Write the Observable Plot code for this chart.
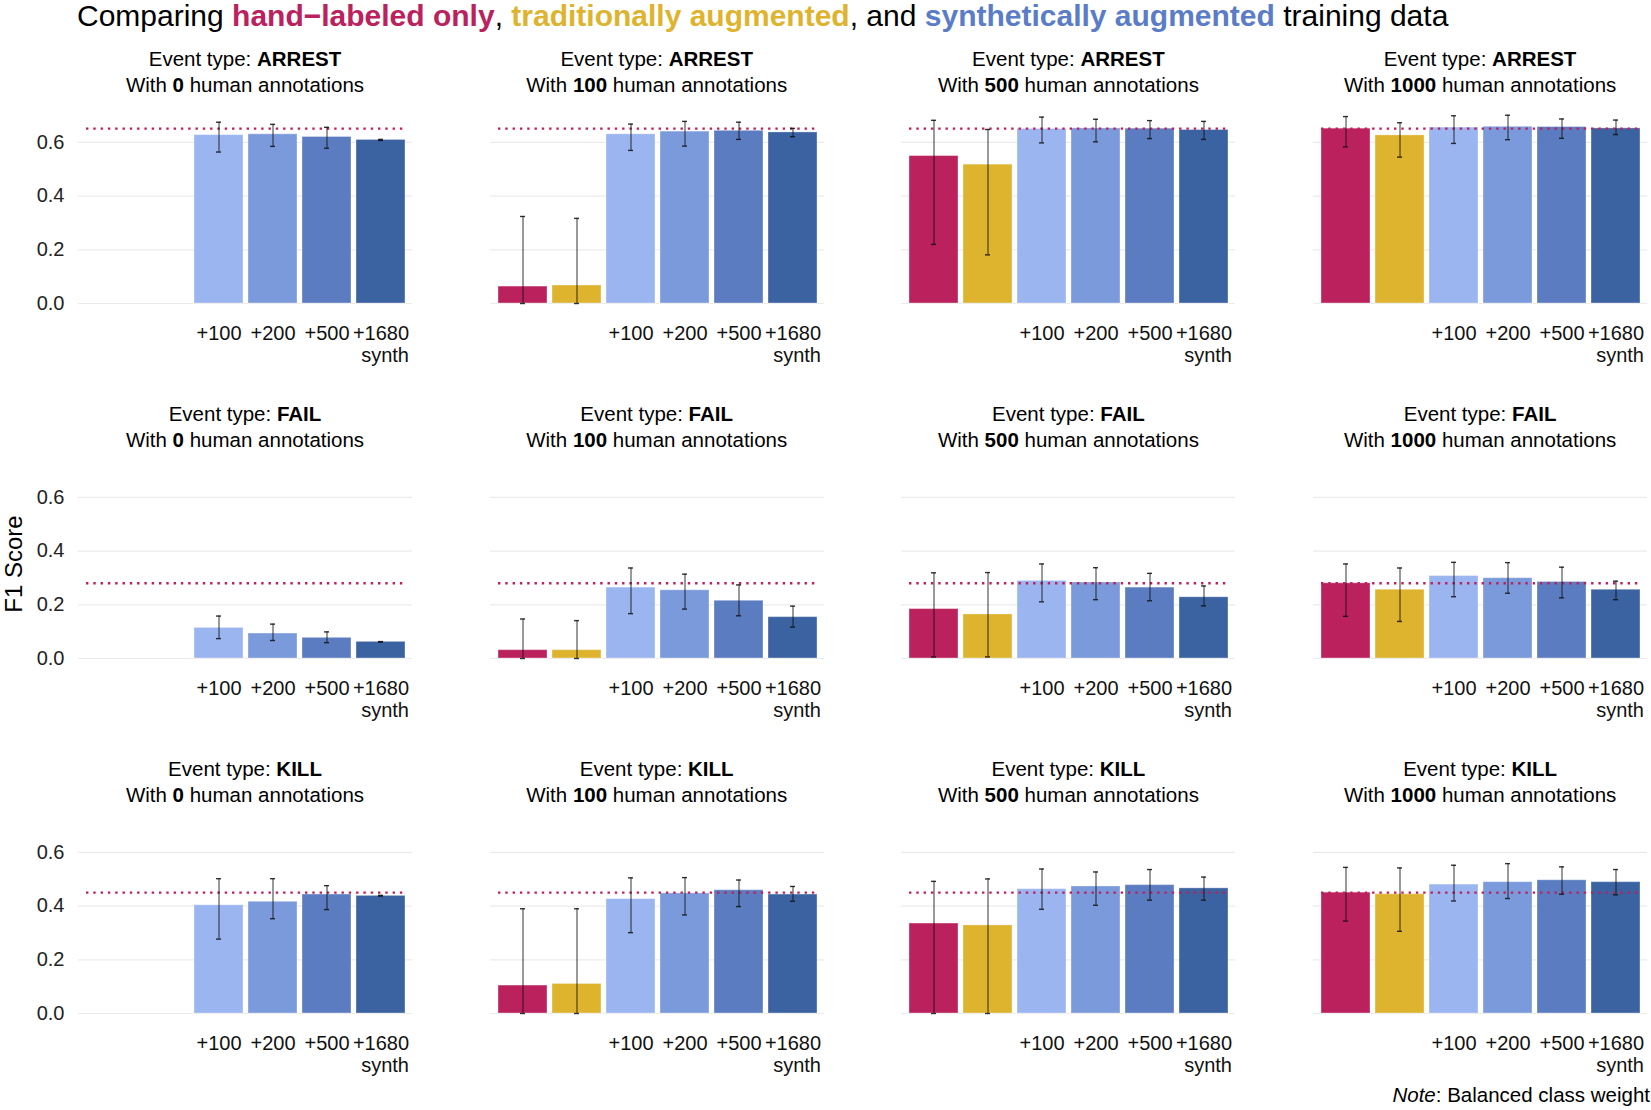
<!DOCTYPE html>
<html><head><meta charset="utf-8">
<script src="https://cdn.jsdelivr.net/npm/d3@7"></script>
<script src="https://cdn.jsdelivr.net/npm/@observablehq/plot@0.6"></script>
<style>
body{margin:0;background:#fff;font-family:"Liberation Sans",Arial,Helvetica,sans-serif;}
#root{position:relative;width:1651px;height:1110px;overflow:hidden;background:#fff;}
.abs{position:absolute;}
.title{left:77px;top:1px;font-size:30px;line-height:30px;white-space:nowrap;color:#000;}
.ptitle{font-size:20.5px;line-height:26px;text-align:center;white-space:nowrap;color:#000;width:334px;}
.ylab{font-size:24px;line-height:24px;white-space:nowrap;color:#000;transform:translate(-50%,-50%) rotate(-90deg);}
.note{right:1px;top:1082px;font-size:20.5px;line-height:26px;white-space:nowrap;color:#000;}
svg{overflow:visible;}
</style>
</head><body>
<div id="root"></div>
<script>
const events = ["ARREST", "FAIL", "KILL"];
const humanCounts = [0, 100, 500, 1000];
const conditions = ["hand", "trad", "+100", "+200", "+500", "+1680"];
const tickLabels = ["", "", "+100", "+200", "+500", "+1680"];
const barColors = ["#BB215C", "#DEB32E", "#9BB5F0", "#7A9ADB", "#5B7CC0", "#3B63A1"];
const referenceF1 = [0.651, 0.280, 0.450];

// rows: human annotation counts (0,100,500,1000); columns: conditions
const arrestF1 = [[null,null,0.627,0.630,0.620,0.609],[0.063,0.067,0.630,0.640,0.643,0.637],[0.549,0.517,0.650,0.652,0.651,0.646],[0.651,0.626,0.655,0.658,0.657,0.652]];
const arrestLo = [[null,null,0.564,0.585,0.578,0.607],[0,0,0.570,0.586,0.611,0.621],[0.220,0.181,0.598,0.602,0.614,0.611],[0.583,0.545,0.596,0.610,0.615,0.629]];
const arrestHi = [[null,null,0.675,0.667,0.656,0.611],[0.324,0.317,0.668,0.678,0.675,0.652],[0.682,0.648,0.694,0.686,0.681,0.678],[0.696,0.673,0.699,0.701,0.687,0.683]];

const failF1 = [[null,null,0.114,0.093,0.077,0.062],[0.031,0.031,0.264,0.254,0.215,0.154],[0.184,0.164,0.289,0.283,0.264,0.228],[0.280,0.256,0.307,0.299,0.285,0.256]];
const failLo = [[null,null,0.074,0.067,0.059,0.061],[0,0,0.167,0.184,0.159,0.117],[0.006,0.006,0.211,0.219,0.215,0.196],[0.157,0.138,0.230,0.243,0.226,0.219]];
const failHi = [[null,null,0.158,0.128,0.099,0.063],[0.147,0.141,0.337,0.314,0.274,0.195],[0.319,0.320,0.352,0.338,0.317,0.270],[0.352,0.337,0.358,0.357,0.340,0.288]];

const killF1 = [[null,null,0.403,0.416,0.443,0.438],[0.104,0.110,0.426,0.447,0.459,0.443],[0.335,0.328,0.463,0.473,0.478,0.466],[0.450,0.444,0.480,0.489,0.496,0.489]];
const killLo = [[null,null,0.277,0.353,0.387,0.437],[0,0,0.301,0.367,0.398,0.418],[0,0,0.388,0.403,0.422,0.422],[0.344,0.306,0.419,0.428,0.444,0.442]];
const killHi = [[null,null,0.502,0.502,0.476,0.440],[0.390,0.390,0.505,0.506,0.497,0.473],[0.492,0.501,0.538,0.527,0.536,0.508],[0.544,0.542,0.552,0.558,0.546,0.536]];

const yTicks = [0, 0.2, 0.4, 0.6];
const seriesF1 = [arrestF1, failF1, killF1];
const seriesLo = [arrestLo, failLo, killLo];
const seriesHi = [arrestHi, failHi, killHi];

const root = document.getElementById("root");
const crimson = "#BB215C";

// main title
const t = document.createElement("div");
t.className = "abs title";
t.innerHTML = 'Comparing <b style="color:#BB215C">hand\u2212labeled only</b>, <b style="color:#DEB32E">traditionally augmented</b>, and <b style="color:#5B7CC7">synthetically augmented</b> training data';
root.appendChild(t);

// y label
const yl = document.createElement("div");
yl.className = "abs ylab";
yl.style.left = "14px"; yl.style.top = "564px";
yl.textContent = "F1 Score";
root.appendChild(yl);

const colX = [0, 411.7, 823.4, 1235.1];
const zeroY = [303.3, 658, 1012.7];
const labelFmt = Object.fromEntries(conditions.map((c, i) => [c, tickLabels[i]]));

events.forEach((ev, ri) => {
  humanCounts.forEach((hc, ci) => {
    const data = conditions.map((c, k) => ({
      cond: c,
      f1: seriesF1[ri][ci][k],
      lo: seriesLo[ri][ci][k],
      hi: seriesHi[ri][ci][k]
    })).filter(d => d.f1 != null);

    const pt = document.createElement("div");
    pt.className = "abs ptitle";
    pt.style.left = (colX[ci] + 78) + "px";
    pt.style.top = (zeroY[ri] - 257) + "px";
    pt.innerHTML = `Event type: <b>${ev}</b><br>With <b>${hc}</b> human annotations`;
    root.appendChild(pt);

    const chart = Plot.plot({
      width: 412,
      height: 258,
      marginLeft: 78,
      marginRight: 0,
      marginTop: 10,
      marginBottom: 60,
      x: {domain: conditions, padding: 0.1, axis: null},
      y: {domain: [0, 0.7], axis: null},
      color: {domain: conditions, range: barColors},
      style: {fontFamily: '"Liberation Sans", Arial, sans-serif', background: "transparent", overflow: "visible"},
      marks: [
        Plot.gridY(yTicks, {stroke: "#ebebeb", strokeOpacity: 1, strokeWidth: 1.2}),
        ci === 0 ? Plot.axisY(yTicks, {tickSize: 0, tickPadding: 14, tickFormat: d3.format(".1f"), fontSize: 20, fill: "#222", label: null}) : null,
        Plot.barY(data, {x: "cond", y: "f1", fill: "cond", stroke: "white", strokeOpacity: 0.35, strokeWidth: 1}),
        Plot.ruleY([referenceF1[ri]], {stroke: crimson, strokeWidth: 2.4, strokeDasharray: "2.4,4.9", insetLeft: 8, insetRight: 5}),
        Plot.ruleX(data, {x: "cond", y1: "lo", y2: "hi", stroke: "#111", strokeWidth: 1, strokeOpacity: 0.85}),
        Plot.tickY(data, {x: "cond", y: "lo", insetLeft: 22, insetRight: 22, stroke: "#111", strokeWidth: 1.4, strokeOpacity: 0.85}),
        Plot.tickY(data, {x: "cond", y: "hi", insetLeft: 22, insetRight: 22, stroke: "#111", strokeWidth: 1.4, strokeOpacity: 0.85}),
        Plot.text(conditions, {x: d => d, text: d => labelFmt[d], frameAnchor: "bottom", dy: 36, fontSize: 20, fill: "#111"}),
        Plot.text(["+1680"], {x: d => d, text: () => "synth", frameAnchor: "bottom", textAnchor: "end", dx: 28, dy: 58, fontSize: 20, fill: "#111"})
      ]
    });
    chart.classList.add("abs");
    chart.style.left = colX[ci] + "px";
    chart.style.top = (zeroY[ri] - 198) + "px";
    root.appendChild(chart);
  });
});

const note = document.createElement("div");
note.className = "abs note";
note.innerHTML = "<i>Note</i>: Balanced class weight";
root.appendChild(note);
</script>
</body></html>
